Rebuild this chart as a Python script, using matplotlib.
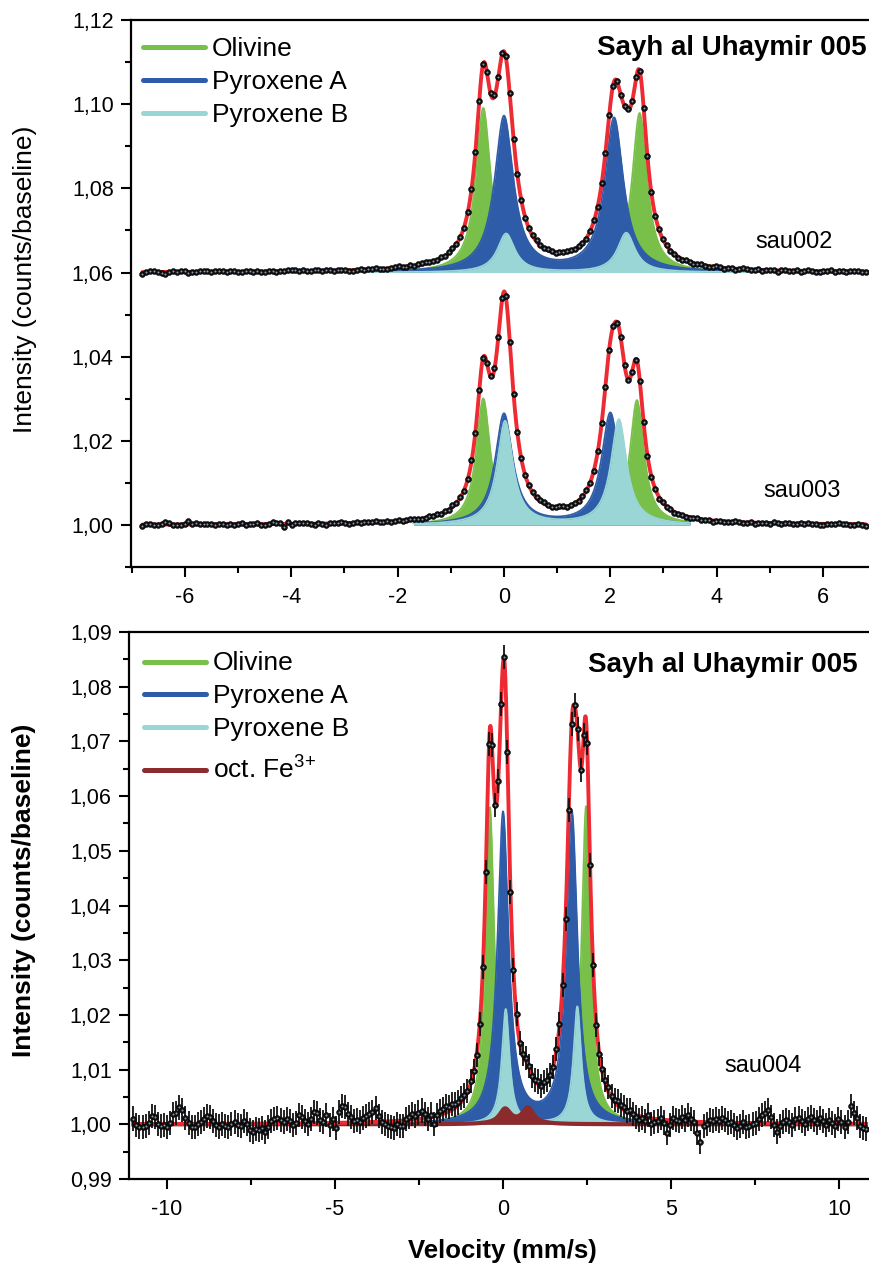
import numpy as np
import matplotlib
matplotlib.use("Agg")
import matplotlib.pyplot as plt
from matplotlib.ticker import MultipleLocator, FuncFormatter

plt.rcParams["font.family"] = ["Liberation Sans", "DejaVu Sans"]
plt.rcParams["mathtext.fontset"] = "custom"
plt.rcParams["mathtext.rm"] = "Liberation Sans"
plt.rcParams["axes.unicode_minus"] = False

# --- fitted Lorentzian doublets (centre mm/s, peak height, HWHM mm/s) ---
NAMES = ["Olivine", "Pyroxene A", "Pyroxene B", r"oct. Fe$^{\mathregular{3{+}}}$"]
COLORS = ["#79c04a", "#2e5ca8", "#9bd6d6", "#8b2b2e"]
FIT_COLOR = "#ee2a33"

sau002_base = 1.06
sau002_centres = [[-0.39, 2.55], [0.00, 2.07], [0.04, 2.30]]
sau002_heights = [[0.0390, 0.0378], [0.0369, 0.0365], [0.0092, 0.0094]]
sau002_hwhm = [0.17, 0.215, 0.20]
sau002_span = (-3.2, 6.8)

sau003_base = 1.00
sau003_centres = [[-0.39, 2.50], [0.00, 2.00], [0.02, 2.16]]
sau003_heights = [[0.0300, 0.0296], [0.0263, 0.0265], [0.0246, 0.0250]]
sau003_hwhm = [0.16, 0.20, 0.18]
sau003_span = (-1.7, 3.5)

sau004_base = 1.00
sau004_centres = [[-0.39, 2.47], [0.00, 2.05], [0.08, 2.21], [0.06, 0.74]]
sau004_heights = [[0.0578, 0.0580], [0.0567, 0.0567], [0.0210, 0.0215], [0.0027, 0.0029]]
sau004_hwhm = [0.16, 0.20, 0.14, 0.20]
sau004_span = (-2.6, 4.3)

# --- measured channels: deviation from fit, in units of 1e-4 ---
sau002_resid = [
    -4, 1, 3, 2, -1, -2, -4, 0, 2, 1, 3, 1, -2, -1, 0, 3, 2, 1, -1,
    1, 3, 2, 0, 1, 2, -1, 0, 1, 2, 0, 1, -1, 0, 2, 1, -2, 0, 1,
    3, 4, 2, 1, 3, -1, 0, 2, 1, 0, 3, 2, 0, 1, 2, 1, -1, -2, 1,
    2, 0, 1, 2, 3, 1, 0, -1, 1, 2, 4, 2, 1, 3, 0, 2, 4, 3, 1,
    2, 0, 3, 1, 2, 4, 1, 2, 0, 3, 1, 2, 4, 2, 0, 1, 3, 2, 4,
    3, 1, -2, 2, 0, -3, 1, 2, 3, 1, 2, 3, 1, 0, 2, 1, 3, 2, 1,
    2, 0, -2, 1, 3, -1, 2, 1, 0, -2, 1, -1, 0, 2, 1, 3, 0, -1, 2,
    1, -2, 0, 1, 2, -1, 0, -2, -3, 1, 0, -2, -1, 1, 0, -3, -1, 2, 0,
    -2, 1, 0, -3, -1, 2, 1, -1, 0, 2, -2, -1, 1, 0, -3, 1, 2, 0, -1,
    1, -2, 0, 2, 1, -1, -3, 0, 1, 2, -1, 0, 1, -2, 0, 2, 1, -1, -2,
]
sau003_resid = [
    -4, 1, 2, 0, -2, 1, 5, 3, 0, -2, -1, 1, 8, 2, 3, 1, 2, 0, 1,
    -1, 2, 1, -1, 0, -2, 1, 3, -1, 0, 1, 2, -1, -2, 1, 4, 3, 2, -7,
    5, -3, 1, 2, 1, 3, 0, -2, 1, -1, -3, 0, 1, 0, 2, 1, -1, 1, 2,
    0, 1, 2, 0, 3, 1, 0, 2, -1, 1, 2, 0, 1, 3, 2, 0, -1, 1, 2,
    1, 3, 0, 2, 1, 4, 2, 3, 0, 2, 4, 1, 3, 2, 0, 1, 3, 2, 4,
    2, -1, 1, 3, 0, -2, 1, 2, 1, 3, 4, 2, 0, 1, 3, 2, 0, 1, 2,
    -1, 2, 1, 0, -2, 1, 2, 0, -1, 1, -2, 0, 1, -1, -3, -2, 0, 1, -2,
    -3, -1, -4, 0, -2, 1, -3, -2, 0, -1, -3, 0, 2, -1, -2, 0, -3, -1, 1,
    -2, 0, -1, 2, 0, -2, -1, 1, -2, 0, 1, -1, -2, 2, 0, -1, 1, 2, -1,
    -2, 1, 0, 2, -1, 0, -3, -2, 0, 1, -1, 2, 0, 1, -1, -2, 0, -3, -5,
]
sau004_resid = [
    10, -2, -6, -5, -4, 2, 15, 12, 0, -3, -2, -5, 2, 18, 20, 30, 25, 10, 2, -6,
    -5, 0, 3, 8, 15, 12, 5, -3, -5, 0, -4, -6, 0, 3, -2, -5, 5, 0, -12, -15,
    -10, -12, -8, -15, -6, 5, 8, 10, 6, 2, 8, 5, -3, 0, 15, 12, 4, -2, 8, 20,
    18, 5, 2, 15, -3, 8, -10, 20, 30, 28, 15, 10, 3, 5, 0, 8, 12, 15, 18, 25,
    10, 0, -5, -8, -10, -12, -6, -9, -10, 2, 5, 10, 6, 12, 15, 8, -2, 5, -13, 2,
    8, 10, 12, 8, 10, 6, 5, 8, 4, 2, 6, 3, -2, 0, 5, -3, 4, 2, -5, 4,
    -6, 5, 4, -6, 3, 5, -2, 2, 4, 0, -3, 2, 5, -2, 4, 2, 0, -3, 3, 5,
    2, -4, 6, -5, 3, 8, -2, -6, -4, 4, 6, -3, 0, 5, 8, 10, 4, 3, 8, 6,
    5, 2, 6, 0, -3, -8, -2, -6, 5, -10, -6, -4, 2, -5, -24, -8, 5, 2, 0, 8,
    3, 12, 5, 0, -20, -37, -8, -3, 4, 2, 6, 3, 8, 5, 0, 2, -4, -10, -6, 2,
    -8, -5, -2, 0, 8, 15, 18, 25, 12, -3, -15, -5, 2, 6, 3, -2, 8, 10, 5, 0,
    8, 12, 6, 2, 10, 4, -3, 6, 2, -5, 8, 3, -6, 4, 33, 20, 10, -4, -8, -10,
]
sau004_err = 0.0022

TOP_RANGE = (-6.8, 6.8)
BOTTOM_RANGE = (-11.0, 10.8)


def lorentz(v, centres, heights, hwhm):
    out = np.zeros_like(v)
    for c, h in zip(centres, heights):
        out += h / (1.0 + ((v - c) / hwhm) ** 2)
    return out


def total(v, base, centres, heights, hwhms):
    s = np.full_like(v, base)
    for c, h, w in zip(centres, heights, hwhms):
        s += lorentz(v, c, h, w)
    return s


def draw_spectrum(ax, vrange, base, centres, heights, hwhms, span, resid,
                  err=None, full_last=False):
    vfine = np.linspace(vrange[0], vrange[1], 3000)
    for i, (c, h, w) in enumerate(zip(centres, heights, hwhms)):
        edge = 1.2
        if full_last and i == len(centres) - 1:
            vv = vfine
            edge = 3.0
        else:
            vv = vfine[(vfine >= span[0]) & (vfine <= span[1])]
        comp = base + lorentz(vv, c, h, w)
        ax.fill_between(vv, base, comp, color=COLORS[i], lw=0, zorder=1 + i)
        ax.plot(vv, comp, color=COLORS[i], lw=edge, zorder=1 + i)
    ax.plot(vfine, total(vfine, base, centres, heights, hwhms),
            color=FIT_COLOR, lw=2.8, zorder=6, solid_capstyle="round")

    vch = np.linspace(vrange[0], vrange[1], len(resid))
    ych = total(vch, base, centres, heights, hwhms) + np.array(resid) * 1e-4
    if err is not None:
        ax.errorbar(vch, ych, yerr=err, fmt="none", ecolor="#111111",
                    elinewidth=1.3, capsize=0, zorder=7)
    ax.plot(vch, ych, "o", ms=4.2, color="#111111", mec="black", mew=0.4, zorder=8)
    ax.plot(vch, ych, "o", ms=1.4, color="#8e9bb0", mew=0, zorder=9)


def comma_fmt(v, pos):
    return f"{v:.2f}".replace(".", ",")


def style_axes(ax, xmaj, xmin, ymaj, ymin):
    ax.spines["right"].set_visible(False)
    for s in ("left", "bottom", "top"):
        ax.spines[s].set_linewidth(1.6)
    ax.xaxis.set_major_locator(MultipleLocator(xmaj))
    ax.xaxis.set_minor_locator(MultipleLocator(xmin))
    ax.yaxis.set_major_locator(MultipleLocator(ymaj))
    ax.yaxis.set_minor_locator(MultipleLocator(ymin))
    ax.yaxis.set_major_formatter(FuncFormatter(comma_fmt))
    ax.xaxis.set_major_formatter(FuncFormatter(lambda v, p: f"{v:g}"))
    ax.tick_params(which="both", direction="out", width=1.5, labelsize=15.5,
                   top=False, right=False)
    ax.tick_params(which="major", length=7.5)
    ax.tick_params(which="minor", length=4)
    ax.tick_params(axis="x", pad=7)
    ax.tick_params(axis="y", pad=5)


def draw_key(ax, names, colors, line_y, text_y, x0, x1, xt):
    for name, col, ly, ty in zip(names, colors, line_y, text_y):
        ax.plot([x0, x1], [ly, ly], color=col, lw=3.6, transform=ax.transAxes,
                solid_capstyle="round", clip_on=False, zorder=10)
        ax.text(xt, ty, name, transform=ax.transAxes, fontsize=19,
                va="baseline", ha="left", zorder=10)


fig = plt.figure(figsize=(8.69, 12.66), dpi=100)

# upper panel: sau002 + sau003
ax1 = fig.add_axes([131 / 869, 0.5521, 738 / 869, 547 / 1266])
draw_spectrum(ax1, TOP_RANGE, sau002_base, sau002_centres, sau002_heights,
              sau002_hwhm, sau002_span, sau002_resid)
draw_spectrum(ax1, TOP_RANGE, sau003_base, sau003_centres, sau003_heights,
              sau003_hwhm, sau003_span, sau003_resid)
ax1.set_xlim(-7.015, 6.865)
ax1.set_ylim(0.99, 1.12)
style_axes(ax1, 2, 1, 0.02, 0.01)
ax1.text(4.72, 1.0659, "sau002", fontsize=17, va="baseline")
ax1.text(4.87, 1.0066, "sau003", fontsize=17, va="baseline")
ax1.text(0.997, 0.936, "Sayh al Uhaymir 005", transform=ax1.transAxes,
         fontsize=20, fontweight="bold", ha="right", va="baseline")
draw_key(ax1, NAMES[:3], COLORS[:3],
         [0.9506, 0.8903, 0.8300], [0.9342, 0.8739, 0.8136],
         0.0163, 0.1003, 0.1098)

# lower panel: sau004 with error bars
ax2 = fig.add_axes([129 / 869, 0.0687, 740 / 869, 547 / 1266])
draw_spectrum(ax2, BOTTOM_RANGE, sau004_base, sau004_centres, sau004_heights,
              sau004_hwhm, sau004_span, sau004_resid, err=sau004_err,
              full_last=True)
ax2.set_xlim(-11.13, 10.89)
ax2.set_ylim(0.99, 1.09)
style_axes(ax2, 5, 2.5, 0.01, 0.005)
ax2.text(6.58, 1.0095, "sau004", fontsize=17, va="baseline")
ax2.text(0.985, 0.9269, "Sayh al Uhaymir 005", transform=ax2.transAxes,
         fontsize=20, fontweight="bold", ha="right", va="baseline")
draw_key(ax2, NAMES, COLORS,
         [0.9452, 0.8867, 0.8263, 0.7477], [0.9305, 0.8702, 0.8099, 0.7331],
         0.0203, 0.104, 0.1135)

fig.text(25 / 869, 1 - 279 / 1266, "Intensity (counts/baseline)", fontsize=19,
         rotation=90, ha="center", va="center")
fig.text(24 / 869, 1 - 890 / 1266, "Intensity (counts/baseline)", fontsize=19,
         fontweight="bold", rotation=90, ha="center", va="center")
fig.text(502 / 869, 1 - 1258 / 1266, "Velocity (mm/s)", fontsize=18.5,
         fontweight="bold", ha="center", va="baseline")

fig.savefig("out.png", dpi=100)
